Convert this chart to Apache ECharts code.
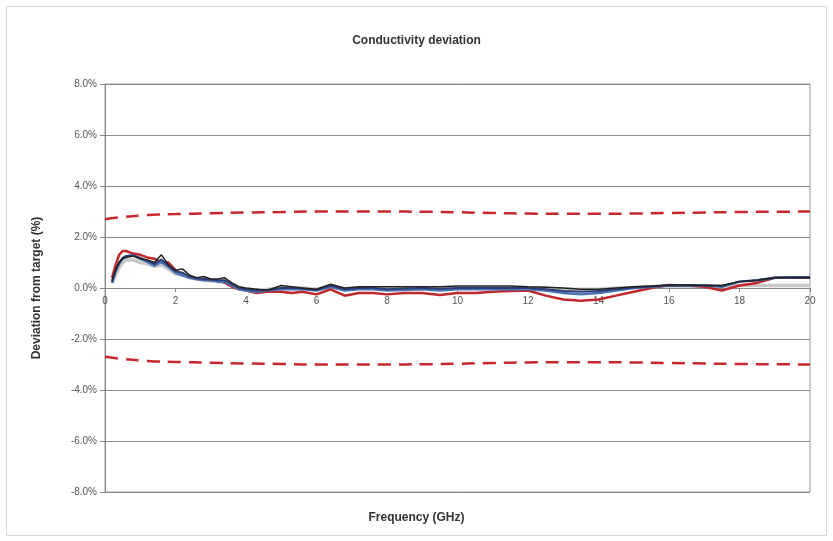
<!DOCTYPE html>
<html>
<head>
<meta charset="utf-8">
<script src="https://cdn.jsdelivr.net/npm/echarts@6/dist/echarts.min.js"></script>
<style>
html,body{margin:0;padding:0;background:#fff;}
#c{width:833px;height:541px;}
</style>
</head>
<body>
<div id="c"></div>
<script>
// ---- data ----
var freq = [0.2,0.3,0.4,0.5,0.6,0.8,1.0,1.2,1.4,1.6,1.8,2.0,2.2,2.4,2.6,2.8,3.0,3.2,3.4,3.6,3.8,4.0,4.3,4.6,5.0,5.3,5.6,6.0,6.4,6.8,7.2,7.6,8.0,8.5,9.0,9.5,10.0,10.5,11.0,11.5,12.0,12.5,13.0,13.5,14.0,14.5,15.0,15.5,16.0,16.5,17.0,17.5,18.0,18.5,19.0,19.5,20.0];
var devBlack = [0.30,0.70,1.00,1.15,1.20,1.25,1.15,1.10,1.00,1.30,0.90,0.70,0.75,0.50,0.40,0.45,0.35,0.35,0.40,0.20,0.05,0.00,-0.05,-0.10,0.10,0.05,0.00,-0.05,0.15,0.00,0.05,0.05,0.05,0.05,0.05,0.05,0.08,0.08,0.08,0.08,0.05,0.03,0.00,-0.05,-0.05,0.00,0.05,0.08,0.12,0.12,0.10,0.10,0.25,0.30,0.40,0.40,0.40];
var devNavy = [0.25,0.70,1.00,1.18,1.25,1.28,1.18,1.08,0.95,1.12,0.88,0.66,0.60,0.45,0.38,0.35,0.32,0.30,0.30,0.15,0.00,-0.05,-0.10,-0.08,0.00,0.00,-0.02,-0.08,0.10,-0.05,0.00,0.00,-0.05,-0.02,0.00,-0.03,0.00,0.00,0.00,0.00,0.00,-0.05,-0.12,-0.15,-0.12,-0.05,0.02,0.06,0.10,0.10,0.10,0.08,0.25,0.30,0.40,0.42,0.42];
var devBlue = [0.20,0.65,0.95,1.15,1.25,1.28,1.15,1.02,0.88,1.02,0.82,0.60,0.50,0.40,0.35,0.30,0.30,0.25,0.25,0.10,-0.05,-0.10,-0.15,-0.10,-0.05,-0.05,-0.05,-0.10,0.05,-0.10,-0.05,-0.05,-0.10,-0.08,-0.05,-0.10,-0.05,-0.05,-0.05,-0.05,-0.05,-0.10,-0.20,-0.25,-0.20,-0.10,0.00,0.05,0.10,0.10,0.10,0.05,0.25,0.30,0.40,0.42,0.42];
var devRed = [0.40,0.90,1.30,1.45,1.45,1.35,1.30,1.20,1.15,1.00,1.00,0.70,0.50,0.45,0.35,0.35,0.30,0.30,0.20,0.05,-0.05,-0.10,-0.20,-0.15,-0.15,-0.20,-0.15,-0.25,-0.05,-0.30,-0.20,-0.20,-0.25,-0.20,-0.20,-0.27,-0.20,-0.20,-0.15,-0.12,-0.10,-0.30,-0.45,-0.50,-0.45,-0.30,-0.15,0.00,0.12,0.10,0.05,-0.10,0.10,0.20,0.40,0.40,0.40];
var devGray = [0.20,0.50,0.80,1.00,1.10,1.10,1.00,0.95,0.85,0.90,0.75,0.55,0.50,0.40,0.35,0.30,0.28,0.25,0.25,0.10,0.00,-0.05,-0.08,-0.05,0.00,0.00,0.00,-0.05,0.05,-0.05,0.00,0.00,-0.02,0.00,0.00,0.00,0.00,0.00,0.00,0.00,0.00,0.00,-0.05,-0.05,-0.05,0.00,0.02,0.05,0.08,0.08,0.08,0.08,0.10,0.10,0.10,0.10,0.10];

var limFreq = [0,0.5,1,1.5,2,3,4,5,6,7,8,9,10,11,12,13,14,15,16,17,18,19,20];
var limUpper = [2.70,2.78,2.84,2.88,2.90,2.93,2.96,2.98,3.00,3.00,3.00,2.99,2.97,2.94,2.92,2.91,2.91,2.92,2.94,2.96,2.98,2.99,3.00];
var limLower = [-2.70,-2.78,-2.84,-2.88,-2.90,-2.93,-2.96,-2.98,-3.00,-3.00,-3.00,-2.99,-2.97,-2.94,-2.92,-2.91,-2.91,-2.92,-2.94,-2.96,-2.98,-2.99,-3.00];

var xTicks = [0,2,4,6,8,10,12,14,16,18,20];
var yTicks = [-8,-6,-4,-2,0,2,4,6,8];

function pairs(xs, ys){ return xs.map(function(x,i){ return [x, ys[i]]; }); }

var FONT = '"Liberation Sans", Arial, sans-serif';
var GRID_TOP = 84, GRID_BOTTOM = 49, H = 541;
var Y_MIN = yTicks[0], Y_MAX = yTicks[yTicks.length - 1];
// shift the x axis up so it crosses the y axis at 0 (labels included)
var plotH = H - GRID_TOP - GRID_BOTTOM;
var zeroOffset = -plotH * (0 - Y_MIN) / (Y_MAX - Y_MIN);

var chart = echarts.init(document.getElementById('c'));
function lineSeries(name, data, color, width){
  return {name:name, type:'line', data:data, showSymbol:false, symbol:'none',
    lineStyle:{color:color, width:width}, animation:false, z:3};
}
chart.setOption({
  backgroundColor:'#fff',
  animation:false,
  title:{text:'Conductivity deviation', left:'center', top:30,
    textStyle:{fontFamily:FONT, fontSize:12, fontWeight:'bold', color:'#333'}},
  graphic:[
    {type:'rect', shape:{x:6.5,y:6.5,width:820,height:529}, style:{fill:'none', stroke:'#d4d4d4', lineWidth:1}, silent:true},
    {type:'text', left:'center', top:512, style:{text:'Frequency (GHz)', font:'bold 12px "Liberation Sans", Arial, sans-serif', fill:'#333'}}
  ],
  grid:{left:105, right:23, top:GRID_TOP, bottom:GRID_BOTTOM, show:true, borderColor:'#9a9a9a', borderWidth:1, backgroundColor:'transparent'},
  xAxis:{type:'value', min:0, max:20, interval:2, position:'bottom', offset:zeroOffset,
    axisLine:{onZero:false, lineStyle:{color:'#888', width:1}},
    axisTick:{show:true, length:4, lineStyle:{color:'#888'}},
    axisLabel:{color:'#555', fontFamily:FONT, fontSize:10, margin:8,
      formatter:function(v){ return xTicks.indexOf(v) >= 0 ? String(v) : ''; }},
    splitLine:{show:false}},
  yAxis:{type:'value', min:Y_MIN, max:Y_MAX, interval:2,
    axisLine:{show:true, lineStyle:{color:'#888'}},
    axisTick:{show:true, length:5, lineStyle:{color:'#888'}},
    axisLabel:{color:'#555', fontFamily:FONT, fontSize:10, margin:8,
      formatter:function(v){ return yTicks.indexOf(v) >= 0 ? v.toFixed(1)+'%' : ''; }},
    splitLine:{show:true, lineStyle:{color:'#8c8c8c', width:1}},
    name:'Deviation from target (%)', nameLocation:'middle', nameRotate:90, nameGap:62,
    nameTextStyle:{fontFamily:FONT, fontSize:12, fontWeight:'bold', color:'#333'}},
  series:[
    lineSeries('gray', pairs(freq, devGray), '#c8c8c8', 3.5),
    lineSeries('red', pairs(freq, devRed), '#c0282c', 2.5),
    lineSeries('blue', pairs(freq, devBlue), '#4a74b4', 2.5),
    lineSeries('navy', pairs(freq, devNavy), '#2c3e78', 2),
    lineSeries('black', pairs(freq, devBlack), '#222222', 1.5),
    {name:'upper', type:'line', data:pairs(limFreq, limUpper), showSymbol:false, symbol:'none', smooth:true,
      lineStyle:{color:'#c8282c', width:2.5, type:[13,8]}, z:4},
    {name:'lower', type:'line', data:pairs(limFreq, limLower), showSymbol:false, symbol:'none', smooth:true,
      lineStyle:{color:'#c8282c', width:2.5, type:[13,8]}, z:4}
  ]
});
</script>
</body>
</html>
